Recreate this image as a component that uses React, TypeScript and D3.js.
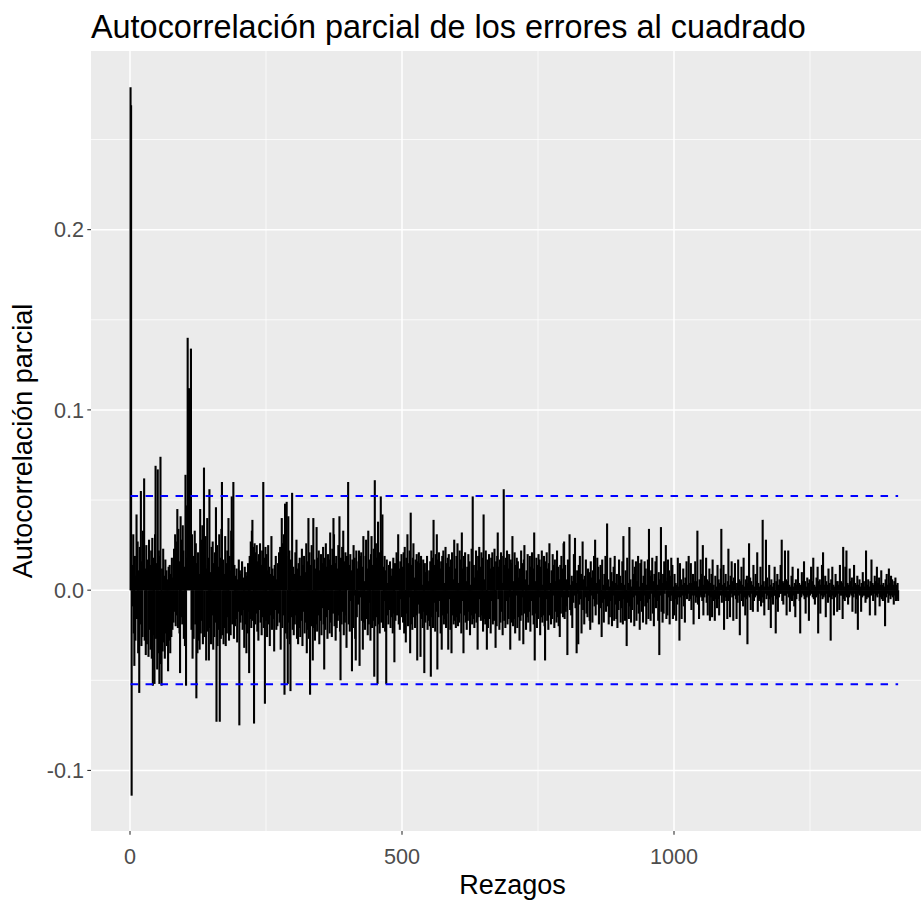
import React from "react";
import * as d3 from "d3";

// Partial autocorrelation values (in thousandths), lags 1..1412
const pacfA = [
  279, 269, -114, 14, -9, 31, -24, -42, 19, -28,
  8, 42, -16, 27, -35, 11, -57, 24, -19, 55,
  -31, 16, -26, 33, 21, 62, -28, 12, -36, 25,
  -30, 17, 9, -37, 28, -22, 14, -33, 22, -38,
  29, -53, 18, -25, -52, 31, 69, -27, 15, -44,
  67, -35, 22, -52, 19, 74, -41, -53, 12, -34,
  23, -29, 8, -38, 17, -24, 11, -31, 6, -45,
  13, -28, 14, -35, 9, -26, 18, -22, 7, -18,
  23, -12, 31, -20, 27, -14, 45, -21, 34, 16,
  -24, -46, 41, -15, 28, -19, 36, 22, -27, 13,
];
const pacfB = [
  -31, 64, -53, 18, 47, 140, 112, 98, 112, 105,
  74, 134, -22, 31, -38, 19, -27, 12, 33, -19,
  26, -60, 15, -35, 21, -28, 9, -33, 45, -24,
  28, -17, 36, -30, 22, 68, -26, 14, 30, -39,
  12, 40, -23, 18, -39, 56, -21, 10, -30, 24,
  -14, 27, -33, 15, -26, 21, -18, 46, -73, 25,
  -31, 13, -22, 31, -73, 18, -27, 34, 60, -25,
  17, -30, 9, -21, 30, -31, 15, -24, 22, -15,
  40, -28, 19, 11, -25, 33, 52, -19, 28, 60,
  -27, 14, -20, 8, -16, 12, -29, 6, -12, 17,
];
const pacfC = [
  -75, 11, -18, 9, -14, 16, -22, 7, -11, -32,
  13, -19, 10, -35, 8, -24, 15, -12, -46, 19,
  -16, 27, -21, 33, 39, -17, 24, -74, 26, -19,
  21, -13, 25, -23, 16, -28, 20, -11, 26, -18,
  14, -25, 22, -15, 60, -21, 18, -63, 24, -17,
  20, -26, 11, 25, -19, 13, -31, 9, -14, 30,
  -22, 12, -16, 8, -34, 14, -11, 19, -22, 6,
  -20, 15, -13, 21, -18, 24, -33, 17, 40, -21,
  26, -14, 31, -58, 48, -24, 19, 49, -27, -52,
  41, -18, 22, -30, -56, 17, -15, 54, -22, 13,
];
const pacfD = [
  -25, 9, -19, 21, -14, 28, -27, 12, -30, 15,
  -21, 18, -26, 8, -17, 23, -31, 14, -12, 19,
  -24, 10, -18, 26, -35, 16, -22, 40, -27, 21,
  -58, 14, -20, 25, -16, -39, 40, -21, 17, -28,
  12, -19, 35, -23, 18, -14, 22, -30, 11, -17,
  20, -25, 15, -10, 24, -19, -44, 18, -22, 26,
  -15, 13, -27, 20, -11, 17, -24, 32, -18, 14,
  -26, 23, -13, 40, 31, -20, 15, -28, 19, -21,
  12, -17, 25, -14, 41, -23, -50, 18, -19, 24,
  -12, 33, -25, 16, -18, 21, -14, -32, 19, 15,
];
const pacfE = [
  60, -19, 14, -23, 20, -6, 11, -45, 17, -21,
  25, -3, 18, -27, -39, 22, -15, 12, -8, 16,
  22, -42, 19, -4, 21, -17, 13, -33, 30, -18,
  5, -22, 19, 28, -16, 12, -25, 33, -19, 17,
  -7, -28, 20, 30, -21, 14, -17, 23, -48, 61,
  -20, 26, -15, 18, -52, 38, -19, 21, -24, 15,
  52, -18, 22, 42, -21, 13, -6, 19, -23, 11,
  -52, 17, -14, 4, -19, 14, -11, 16, -21, 8,
  -15, 12, -24, 18, -13, -40, 15, -17, 9, 21,
  -14, 17, 31, -19, 12, -22, 16, -5, 20, -15,
];
const pacfF = [
  13, -18, 21, -24, 24, -6, -29, 18, -13, 31,
  -20, 15, -4, 22, -35, 43, -19, 14, -22, 18,
  26, -15, 7, -21, 17, -14, 20, -39, 16, -8,
  21, -13, 15, -37, 19, -16, 3, -21, 17, -12,
  -46, 15, -18, 10, -14, 19, -22, 5, -17, 11,
  -20, 16, -48, 22, -15, 18, -21, 39, -7, 14,
  -23, 20, -12, 31, -44, 17, -15, 21, -6, 12,
  -24, 16, -33, 19, -14, 22, -19, 4, -16, 24,
  -21, 15, -13, 18, -33, 20, -5, 13, -22, 17,
  -35, 21, -14, 6, -19, 28, -17, 12, -21, 19,
];
const pacfG = [
  -15, 26, -20, 4, -18, 22, -13, 17, -24, 32,
  -6, 12, -35, 19, -14, 21, -18, 5, -22, 13,
  -17, 20, -12, 16, -25, 3, -14, 23, -19, 52,
  -16, 14, -21, 7, -13, 22, -18, 11, -33, 19,
  -15, 24, -5, 13, -17, 21, -14, 18, -23, 42,
  -16, 6, -19, 22, -13, -33, 17, -21, 4, 20,
  -16, 12, -24, 18, -6, 21, -19, 13, -17, 23,
  -14, -32, 16, -20, 19, 32, -5, 13, -22, 17,
  -18, 21, -12, 4, -25, 19, 56, -17, 14, -21,
  18, -6, 22, -19, 12, -16, 20, -4, -33, 17,
];
const pacfH = [
  -18, 15, 30, -20, 5, -16, 21, -24, 14, -3,
  18, -21, 16, -15, 7, -28, 12, -17, 22, -14,
  15, -4, -30, 17, 25, -13, 6, -22, 11, -15,
  20, -18, 3, -12, 19, -23, 13, -6, 21, -14,
  12, -19, 32, -39, 5, -13, 18, -21, 14, -16,
  20, -4, 17, -25, 13, -15, 22, -18, 3, -14,
  19, -20, -39, 16, -5, 21, -17, 12, -22, 15,
  26, -14, 4, -19, 11, -16, 20, -3, 14, -21,
  17, -12, 5, -18, 22, -15, 13, -20, 6, -26,
  14, -13, 19, -4, 12, -15, 26, 27, -16, 14,
];
const pacfI = [
  -12, 6, -9, -36, 17, -4, 9, 31, -11, 3,
  -14, 8, -21, 5, -7, 20, -3, 29, -10, 4,
  -35, 11, -2, -30, 14, -8, 19, -5, 9, -24,
  3, 27, -11, 6, -19, 8, -4, 17, -13, 2,
  -15, 12, -6, 10, -17, -22, 16, -3, 7, -18,
  11, -5, 19, -9, 28, -14, 4, -8, 18, -2,
  13, -19, 6, -10, 14, -4, -26, 17, -7, 3,
  -18, 9, -5, 19, -12, 4, 37, -9, 6, -19,
  2, -15, 18, -6, 10, -20, 5, -3, 13, -17,
  19, -8, 4, -16, 9, -21, 3, -11, 17, -6,
];
const pacfJ = [
  8, -18, 4, -10, 16, -19, 30, -5, 3, -17,
  11, -2, -31, 18, -7, 4, -16, 35, -9, 6,
  -18, 2, -11, 17, -4, 9, -20, 13, -3, 16,
  -17, 5, -8, 19, -13, 2, -22, 15, -6, 17,
  -12, 4, -18, 8, -3, 16, -9, 12, -19, 3,
  -7, 17, -16, 34, -5, 8, -17, 11, -2, 18,
  -13, 5, -20, 9, -4, 16, -10, 19, -6, 3,
  -17, 10, -36, 6, -3, 35, -12, 4, -18, 9,
  -13, 16, -2, 7, 25, -16, 5, -14, 17, -4,
  11, -19, 8, -6, 18, -3, 14, -16, 2, -14,
];
const pacfK = [
  9, -5, 4, -17, 3, -8, 18, -4, 2, -28,
  15, -4, 6, -16, 3, -3, 12, -9, 4, -18,
  7, -3, 16, -5, 3, -2, 19, -6, 4, -5,
  15, -11, 4, -3, 9, -19, 5, -3, 16, -7,
  5, -4, 33, -8, 2, -16, 6, -3, 17, -4,
  9, -6, 25, -14, 3, -4, 8, -2, 18, -7,
  6, -14, 5, -3, 12, -17, 4, -4, 9, -15,
  17, -6, 3, -3, -17, 8, -5, 2, -10, 14,
  -5, 6, -14, 4, -3, 12, 34, -7, 3, -3,
  14, -22, 4, -4, 9, -6, 2, -16, 5, 23,
];
const pacfL = [
  -6, 3, -15, 8, -2, 16, -4, 5, -17, 7,
  -3, 15, 2, -5, -16, 4, -7, 17, -3, 6,
  -25, 5, -2, 13, -6, 3, -9, 18, -4, 2,
  -14, 6, -5, 8, -30, 4, -3, 26, -4, 7,
  -11, 5, -2, 3, -12, 14, -6, 2, -4, 9,
  -3, 5, 21, -12, 4, -6, 2, -5, 13, -9,
  3, -4, 39, -7, 5, -14, 2, -2, 28, -5,
  7, -3, 2, -11, 14, -5, 3, -21, 6, -4,
  2, -8, 4, -3, 13, -3, -24, 5, -5, 9,
  -12, 3, -4, 6, -2, 14, -2, 28, -6, 5,
];
const pacfM = [
  -8, 4, -3, 22, -3, 6, -14, 5, -2, 22,
  -4, 3, -12, 2, -5, 8, -6, 13, -3, 2,
  -9, 4, -15, 6, -5, 3, -2, 12, -2, 4,
  -6, -24, 3, -4, 10, -2, 5, -3, 16, -5,
  5, -13, 2, -4, 7, -3, 4, -17, 6, -3,
  -2, 13, -2, 5, -4, 18, -5, 3, -8, 2,
  -4, 7, -3, 13, -24, 5, -2, 6, -13, 3,
  -3, 14, -5, 21, -4, 3, -3, 8, -15, 5,
  -2, 3, -7, 12, -4, 4, -2, -28, 6, -5,
  13, -3, 3, -14, 2, -4, 9, -3, 5, -12,
];
const pacfN = [
  5, -2, 3, -11, 14, -3, 5, -3, 4, -16,
  24, -5, 2, -6, 13, -3, 22, -4, 4, -8,
  3, -4, 12, -2, 5, -3, 7, -12, 2, -4,
  14, -2, 4, -13, 3, -5, 8, -22, 3, -2,
  6, -3, 2, -12, 4, -4, 10, -3, 5, -3,
  2, -7, 22, -5, 3, -4, 6, -4, 2, -14,
  5, -3, 17, -2, 4, -6, 3, -2, 8, -14,
  5, -3, 13, -4, 4, -2, 7, -9, 3, -4,
  11, -5, 3, -6, 4, -3, 2, -20, 6, -4,
  9, -2, 3, -7, 12, -3, 4, -5, 8, -3,
];
const pacfO = [6, -4, 3, -8, 5, -3, 7, -6, 3, -5, 4, -6];

const pacfThousandths = [
  ...pacfA, ...pacfB, ...pacfC, ...pacfD, ...pacfE, ...pacfF, ...pacfG, ...pacfH,
  ...pacfI, ...pacfJ, ...pacfK, ...pacfL, ...pacfM, ...pacfN, ...pacfO,
];

const confLimit = 0.0522;
const xTicks = [0, 500, 1000];
const xTickLabels = ["0", "500", "1000"];
const xMinor = [250, 750, 1250];
const yTicks = [-0.1, 0, 0.1, 0.2];
const yTickLabels = ["-0.1", "0.0", "0.1", "0.2"];
const yMinor = [-0.05, 0.05, 0.15, 0.25];
const titleText = "Autocorrelación parcial de los errores al cuadrado";
const xTitleText = "Rezagos";
const yTitleText = "Autocorrelación parcial";

const W = 921;
const H = 901;
const panel = { left: 91, top: 51, right: 940, bottom: 831 };
const FONT = "'Liberation Sans', Arial, Helvetica, sans-serif";

export default function App() {
  const data = pacfThousandths.map((v, i) => ({ lag: i + 1, value: v / 1000 }));
  const x = d3.scaleLinear().domain([0, 1000]).range([130, 674]);
  const y = d3.scaleLinear().domain([-0.1336, 0.2991]).range([panel.bottom, panel.top]);
  const y0 = y(0);
  const lastLag = data[data.length - 1].lag;

  return (
    <div style={{ position: "absolute", left: 0, top: 0, width: W, height: H, overflow: "hidden", background: "#fff" }}>
      <svg width={W} height={H} style={{ display: "block" }}>
        <defs>
          <clipPath id="panelClip">
            <rect x={panel.left} y={panel.top} width={panel.right - panel.left} height={panel.bottom - panel.top} />
          </clipPath>
        </defs>
        <rect x={panel.left} y={panel.top} width={panel.right - panel.left} height={panel.bottom - panel.top} fill="#EBEBEB" />
        <g clipPath="url(#panelClip)">
          {yMinor.map((t) => (
            <line key={"ym" + t} x1={panel.left} x2={panel.right} y1={y(t)} y2={y(t)} stroke="#fff" strokeWidth={0.75} />
          ))}
          {xMinor.map((t) => (
            <line key={"xm" + t} x1={x(t)} x2={x(t)} y1={panel.top} y2={panel.bottom} stroke="#fff" strokeWidth={0.75} />
          ))}
          {yTicks.map((t) => (
            <line key={"yM" + t} x1={panel.left} x2={panel.right} y1={y(t)} y2={y(t)} stroke="#fff" strokeWidth={1.5} />
          ))}
          {xTicks.map((t) => (
            <line key={"xM" + t} x1={x(t)} x2={x(t)} y1={panel.top} y2={panel.bottom} stroke="#fff" strokeWidth={1.5} />
          ))}
          {data.map((d) => (
            <line key={d.lag} x1={x(d.lag)} x2={x(d.lag)} y1={y0} y2={y(d.value)} stroke="#000" strokeWidth={2.1} />
          ))}
          {[confLimit, -confLimit].map((c) => (
            <line key={"c" + c} x1={x(1)} x2={x(lastLag)} y1={y(c)} y2={y(c)} stroke="#0000FF" strokeWidth={1.9} strokeDasharray="7.5,7.5" />
          ))}
        </g>
        {yTicks.map((t, i) => (
          <g key={"yt" + t}>
            <line x1={panel.left - 3.7} x2={panel.left} y1={y(t)} y2={y(t)} stroke="#333" strokeWidth={1.1} />
            <text x={panel.left - 7} y={y(t)} dy="0.36em" textAnchor="end" fontFamily={FONT} fontSize={21.6} fill="#4D4D4D">
              {yTickLabels[i]}
            </text>
          </g>
        ))}
        {xTicks.map((t, i) => (
          <g key={"xt" + t}>
            <line x1={x(t)} x2={x(t)} y1={panel.bottom} y2={panel.bottom + 3.7} stroke="#333" strokeWidth={1.1} />
            <text x={x(t)} y={863.5} textAnchor="middle" fontFamily={FONT} fontSize={21.6} fill="#4D4D4D">
              {xTickLabels[i]}
            </text>
          </g>
        ))}
        <text x={512.5} y={894} textAnchor="middle" fontFamily={FONT} fontSize={27} fill="#000">
          {xTitleText}
        </text>
        <text transform={`translate(32, ${(panel.top + panel.bottom) / 2}) rotate(-90)`} textAnchor="middle" fontFamily={FONT} fontSize={27} fill="#000">
          {yTitleText}
        </text>
        <text x={91} y={38} fontFamily={FONT} fontSize={32.4} fill="#000">
          {titleText}
        </text>
      </svg>
    </div>
  );
}
